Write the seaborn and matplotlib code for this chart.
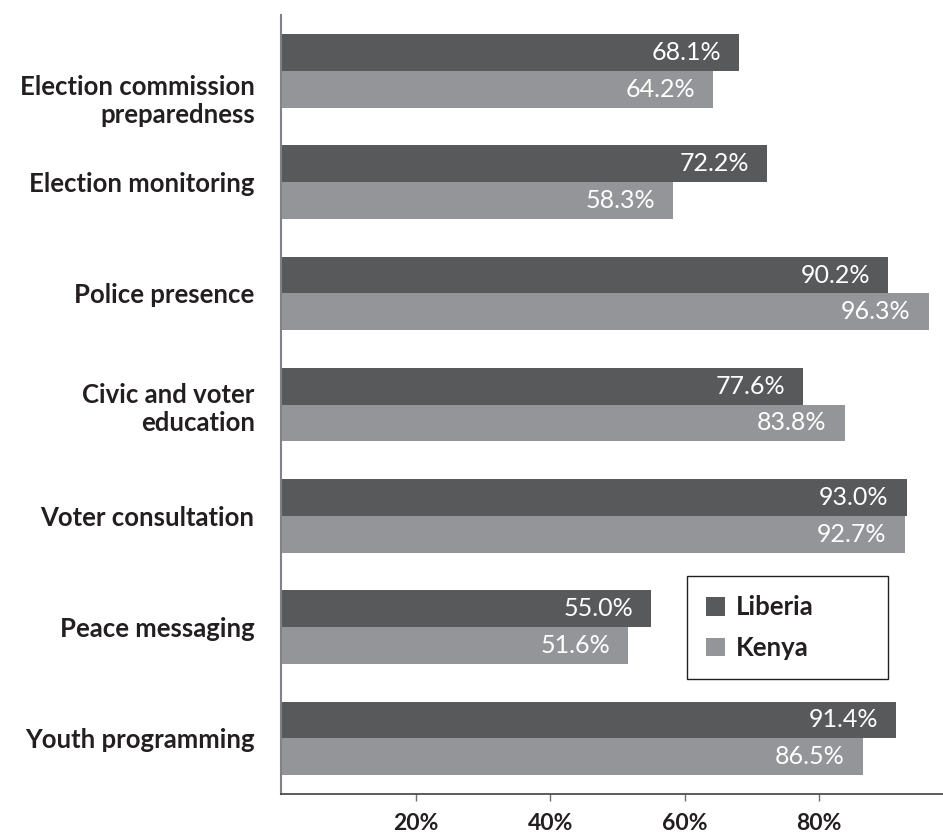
import pandas as pd
import matplotlib.pyplot as plt
import matplotlib.transforms as mtransforms
import seaborn as sns

categories = ["Election commission\npreparedness", "Election monitoring", "Police presence",
              "Civic and voter\neducation", "Voter consultation", "Peace messaging",
              "Youth programming"]
liberia = [68.1, 72.2, 90.2, 77.6, 93.0, 55.0, 91.4]
kenya = [64.2, 58.3, 96.3, 83.8, 92.7, 51.6, 86.5]
countries = ["Liberia", "Kenya"]
xticks = [20, 40, 60, 80]

df = pd.DataFrame({
    "category": categories * 2,
    "country": ["Liberia"] * len(categories) + ["Kenya"] * len(categories),
    "value": liberia + kenya,
})

sns.set_style("white")
plt.rcParams['font.family'] = ['Lato', 'DejaVu Sans']
txt = "#231f20"

fig = plt.figure(figsize=(9.43, 8.4), dpi=100)
ax = fig.add_axes([0.298, 0.0548, 0.702, 0.927])

sns.barplot(data=df, y="category", x="value", hue="country", hue_order=countries,
            palette=["#58595b", "#939598"], width=0.66, saturation=1, linewidth=0,
            errorbar=None, orient="h", ax=ax)

for cont in ax.containers:
    labels = ax.bar_label(cont, fmt="%.1f%%", padding=-13, color="white",
                          fontsize=18, fontweight="normal")
    for t in labels:
        t.set_ha("right")

ax.set_xlim(0, 98.4)
ax.set_ylim(6.5, -0.5)
ax.set_xticks(xticks)
ax.set_xticklabels([f"{v}%" for v in xticks], fontsize=16.5, fontweight="bold", color=txt)
ax.tick_params(axis="x", length=5, width=1, color="#6d6e71", pad=9, bottom=True)
ax.tick_params(axis="y", length=0, pad=19)
ax.set_yticklabels(categories, fontsize=18.5, fontweight="bold", color=txt,
                   ha="right", multialignment="right")
ax.set_xlabel("")
ax.set_ylabel("")

# first label sits a bit lower in the original
lab0 = ax.get_yticklabels()[0]
lab0.set_transform(lab0.get_transform() +
                   mtransforms.ScaledTranslation(0, -19 / 72, fig.dpi_scale_trans))

for s in ["top", "right"]:
    ax.spines[s].set_visible(False)
ax.spines["left"].set_color("#808285")
ax.spines["left"].set_linewidth(1.5)
ax.spines["bottom"].set_color("#414042")
ax.spines["bottom"].set_linewidth(1.2)

ax.legend(loc="upper left", bbox_to_anchor=(0.613, 0.15, 0.304, 0.13), mode="expand",
          prop={"size": 18.5, "weight": "bold"}, frameon=True, fancybox=False,
          edgecolor=txt, framealpha=1, handlelength=0.75, handleheight=0.75,
          handletextpad=0.4, labelspacing=0.65, borderpad=0.75, borderaxespad=0)
leg = ax.get_legend()
leg.get_frame().set_linewidth(1)
for t in leg.get_texts():
    t.set_color(txt)

fig.savefig("out.png", dpi=100)
